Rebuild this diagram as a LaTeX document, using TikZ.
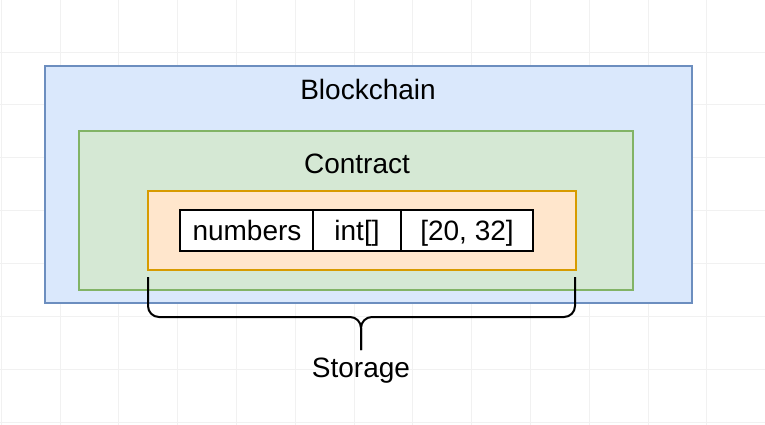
\documentclass[tikz,border=0pt]{standalone}
\usepackage{fontspec}
\setmainfont{Liberation Sans}
\definecolor{bcfill}{HTML}{DAE8FC}
\definecolor{bcline}{HTML}{6C8EBF}
\definecolor{ctfill}{HTML}{D5E8D4}
\definecolor{ctline}{HTML}{82B366}
\definecolor{stfill}{HTML}{FFE6CC}
\definecolor{stline}{HTML}{D79B00}
\definecolor{gridc}{HTML}{F1F1F1}
\begin{document}
\begin{tikzpicture}[x=1pt,y=-1pt,
  container/.style={draw, line width=2pt, inner sep=0pt, outer sep=0pt},
  cell/.style={draw=black, line width=1.6pt, fill=white, minimum height=41pt, inner sep=0pt, outer sep=0pt},
  label/.style={font=\fontsize{28}{32}\selectfont, anchor=base, inner sep=0pt},
  brace/.style={draw=black, line width=2pt, rounded corners=11pt}]
\useasboundingbox (0,0) rectangle (765,425);
\fill[white] (0,0) rectangle (765,425);
% faint grid
\foreach \gx in {1.2,60,118.8,177.6,236.4,295.2,354,412.8,471.6,530.4,589.2,648,706.8}
  \draw[gridc, line width=0.8pt] (\gx,0) -- (\gx,425);
\foreach \gy in {-0.9,52,104.9,157.8,210.7,263.6,316.5,369.4,422.3}
  \draw[gridc, line width=0.8pt] (0,\gy) -- (765,\gy);
% containers
\node[container, draw=bcline, fill=bcfill, minimum width=647pt, minimum height=237pt, anchor=north west] (blockchain) at (45,66) {};
\node[container, draw=ctline, fill=ctfill, minimum width=554pt, minimum height=159pt, anchor=north west] (contract) at (79,131) {};
\node[container, draw=stline, fill=stfill, minimum width=428pt, minimum height=79pt, anchor=north west] (storage) at (148,191) {};
% titles
\node[label] (tblock) at (368,100) {Blockchain};
\node[label] (tcontract) at (357,173) {Contract};
% table
\node[cell, minimum width=133pt, anchor=north west] (c1) at (180,210) {};
\node[cell, minimum width=88pt, anchor=north west] (c2) at (313,210) {};
\node[cell, minimum width=132pt, anchor=north west] (c3) at (401,210) {};
\node[label] (t1) at (247,240) {numbers};
\node[label] (t2) at (357,240) {int[]};
\node[label] (t3) at (467,240) {[20, 32]};
% brace
\coordinate (bl) at (148,277);
\coordinate (br) at (575,277);
\coordinate (bm) at (361,317);
\coordinate (bs) at (361,350);
\draw[brace] (bl) -- (bl |- bm) -- (bm) -- (bs);
\draw[brace] (br) -- (br |- bm) -- (bm) -- (bs);
\node[label] (tstorage) at (361,377) {Storage};
\end{tikzpicture}
\end{document}
